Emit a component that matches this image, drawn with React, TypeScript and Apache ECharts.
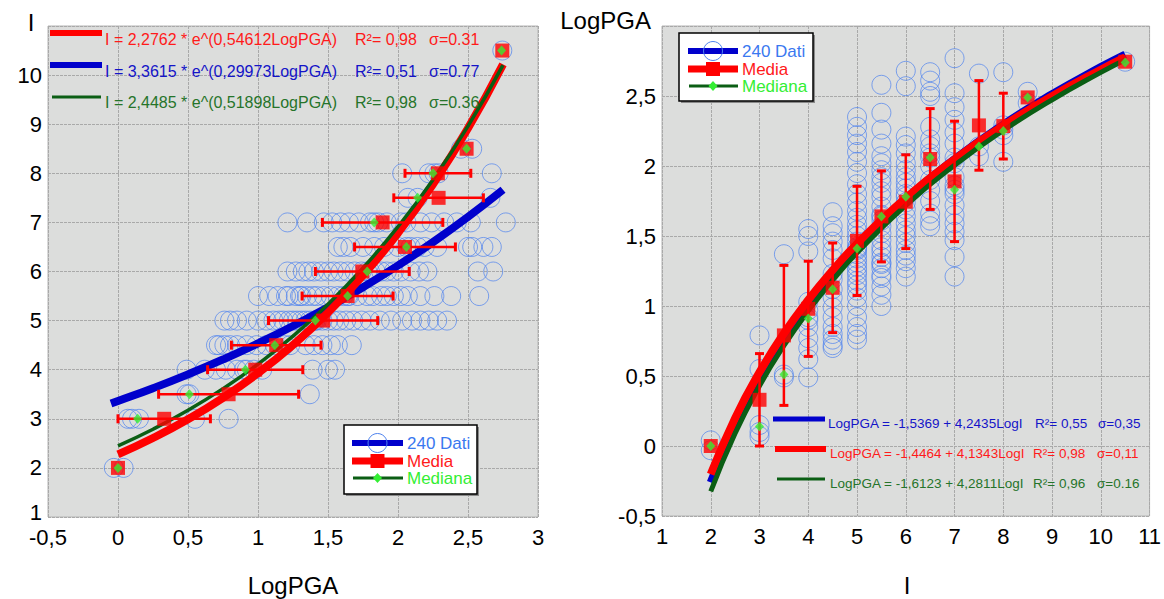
import React, { useEffect, useRef } from 'react';
import * as echarts from 'echarts';

const FONT = '"Liberation Sans", Arial, Helvetica, sans-serif';

// Intensity levels (I) of the grouped data
const levels = [2, 3, 3.5, 4, 4.5, 5, 5.5, 6, 6.5, 7, 7.5, 8, 8.5, 10.5];

// 240 Dati: LogPGA values read per intensity level
const datiLogPGA: number[][] = [
  [-0.03, 0.04],
  [0.07, 0.1, 0.15, 0.55, 0.79],
  [0.49, 0.51, 1.37],
  [0.49, 0.62, 0.7, 0.77, 0.85, 0.9, 0.92, 0.97, 1.03, 1.39, 1.5, 1.55],
  [0.7, 0.72, 0.76, 0.8, 0.85, 0.92, 0.99, 1.06, 1.12, 1.19, 1.23, 1.34, 1.4, 1.46, 1.52, 1.57, 1.67],
  [0.76, 0.8, 0.85, 0.92, 1.0, 1.06, 1.11, 1.15, 1.18, 1.22, 1.25, 1.28, 1.31, 1.34, 1.37, 1.4, 1.41, 1.42, 1.46, 1.5, 1.54, 1.58, 1.63, 1.68, 1.74, 1.8, 1.87, 1.95, 2.03, 2.1, 2.16, 2.22, 2.28, 2.35],
  [1.0, 1.08, 1.14, 1.2, 1.22, 1.27, 1.3, 1.31, 1.35, 1.39, 1.42, 1.47, 1.52, 1.57, 1.61, 1.64, 1.65, 1.71, 1.78, 1.82, 1.88, 1.92, 1.97, 2.02, 2.07, 2.16, 2.26, 2.38, 2.58],
  [1.21, 1.27, 1.32, 1.36, 1.4, 1.45, 1.5, 1.54, 1.59, 1.64, 1.69, 1.74, 1.78, 1.8, 1.84, 1.88, 1.92, 1.97, 2.02, 2.09, 2.15, 2.21, 2.57, 2.68],
  [1.57, 1.61, 1.66, 1.75, 1.83, 1.9, 2.0, 2.06, 2.09, 2.14, 2.19, 2.28, 2.5, 2.53, 2.61, 2.67],
  [1.21, 1.35, 1.47, 1.53, 1.59, 1.65, 1.72, 1.8, 1.83, 1.86, 1.92, 2.02, 2.06, 2.16, 2.24, 2.33, 2.42, 2.52, 2.77],
  [2.07, 2.14, 2.66],
  [2.03, 2.22, 2.26, 2.29, 2.67],
  [2.45, 2.53],
  [2.745],
];

// Media (mean) and standard deviation per level
const mediaLogPGA = [0.0, 0.33, 0.79, 0.98, 1.13, 1.465, 1.64, 1.745, 2.05, 1.89, 2.29, 2.285, 2.49, 2.745];
const devStdLogPGA = [0, 0.33, 0.5, 0.34, 0.32, 0.39, 0.325, 0.335, 0.36, 0.43, 0.32, 0.235, 0, 0];
// Mediana per level
const medianaLogPGA = [0.0, 0.14, 0.51, 0.91, 1.12, 1.41, 1.64, 1.78, 2.06, 1.83, 2.14, 2.25, 2.49, 2.74];

// Left chart fitted curves (I vs LogPGA)
const leftFitX = [0, 0.25, 0.5, 0.75, 1.0, 1.25, 1.5, 1.75, 2.0, 2.25, 2.5, 2.75];
const leftFitRed = [2.276, 2.609, 2.991, 3.428, 3.93, 4.505, 5.164, 5.919, 6.785, 7.778, 8.916, 10.219];
const leftFitGreen = [2.449, 2.788, 3.174, 3.614, 4.114, 4.684, 5.333, 6.072, 6.913, 7.871, 8.962, 10.203];
const leftFitBlueX = [-0.05, 0, 0.25, 0.5, 0.75, 1.0, 1.25, 1.5, 1.75, 2.0, 2.25, 2.5, 2.75];
const leftFitBlue = [3.311, 3.362, 3.623, 3.905, 4.209, 4.536, 4.889, 5.27, 5.68, 6.122, 6.598, 7.112, 7.665];

// Right chart fitted curves (LogPGA vs I)
const rightFitX = [2, 2.5, 3, 3.5, 4, 4.5, 5, 6, 7, 8, 9, 10, 10.5];
const rightFitBlue = [-0.2595, 0.1518, 0.4878, 0.7718, 1.0179, 1.235, 1.4292, 1.7652, 2.0493, 2.2954, 2.5124, 2.7066, 2.7965];
const rightFitRed = [-0.2019, 0.1988, 0.5262, 0.8029, 1.0427, 1.2542, 1.4433, 1.7707, 2.0475, 2.2872, 2.4987, 2.6879, 2.7755];
const rightFitGreen = [-0.3236, 0.0913, 0.4303, 0.7169, 0.9652, 1.1842, 1.3801, 1.719, 2.0057, 2.2539, 2.4729, 2.6688, 2.7595];

// Text labels
const leftEquations = [
  { eq: 'I = 2,2762 * e^(0,54612LogPGA)', r2: 'R²= 0,98', s: 'σ=0.31', color: '#ff1a1a', line: '#ff0000', w: 6 },
  { eq: 'I = 3,3615 * e^(0,29973LogPGA)', r2: 'R²= 0,51', s: 'σ=0.77', color: '#1414c8', line: '#0000cc', w: 6 },
  { eq: 'I = 2,4485 * e^(0,51898LogPGA)', r2: 'R²= 0,98', s: 'σ=0.36', color: '#26742a', line: '#0b5e14', w: 3 },
];
const rightEquations = [
  { eq: 'LogPGA = -1,5369 + 4,2435LogI', r2: 'R²= 0,55', s: 'σ=0,35', color: '#1414c8', line: '#0000cc', w: 5 },
  { eq: 'LogPGA = -1,4464 + 4,1343LogI', r2: 'R²= 0,98', s: 'σ=0,11', color: '#ff1a1a', line: '#ff0000', w: 6 },
  { eq: 'LogPGA = -1,6123 + 4,2811LogI', r2: 'R²= 0,96', s: 'σ=0.16', color: '#26742a', line: '#0b5e14', w: 3 },
];
const legendNames = ['240 Dati', 'Media', 'Mediana'];

const C_CIRCLE = '#4f83ee';
const C_RED = '#ff0000';
const C_BLUE = '#0000cc';
const C_DGREEN = '#0b5e14';
const C_LGREEN = '#33ee33';

const fmt = (v: number) => String(Math.round(v * 100) / 100).replace('.', ',');

function legendBox(x0: number, y0: number, w: number, h: number, rows: number[], lx1: number, lx2: number, tx: number) {
  const mx = (lx1 + lx2) / 2;
  const els: any[] = [
    { type: 'rect', shape: { x: x0 + 2, y: y0 + 2, width: w, height: h }, style: { fill: '#8a8a8a' }, z: 100 },
    { type: 'rect', shape: { x: x0, y: y0, width: w, height: h }, style: { fill: '#ffffff', stroke: '#000', lineWidth: 1.5 }, z: 101 },
    { type: 'line', shape: { x1: lx1, y1: rows[0], x2: lx2, y2: rows[0] }, style: { stroke: C_BLUE, lineWidth: 6 }, z: 102 },
    { type: 'circle', shape: { cx: mx, cy: rows[0], r: 9.5 }, style: { fill: 'none', stroke: C_CIRCLE, lineWidth: 1 }, z: 103 },
    { type: 'line', shape: { x1: lx1, y1: rows[1], x2: lx2, y2: rows[1] }, style: { stroke: C_RED, lineWidth: 7 }, z: 102 },
    { type: 'rect', shape: { x: mx - 7, y: rows[1] - 7, width: 14, height: 14 }, style: { fill: C_RED }, z: 103 },
    { type: 'line', shape: { x1: lx1 + 1, y1: rows[2], x2: lx2, y2: rows[2] }, style: { stroke: C_DGREEN, lineWidth: 3 }, z: 102 },
    { type: 'polygon', shape: { points: [[mx, rows[2] - 5], [mx + 4.5, rows[2]], [mx, rows[2] + 5], [mx - 4.5, rows[2]]] }, style: { fill: C_LGREEN }, z: 103 },
  ];
  const colors = ['#3a78f0', '#ff1a1a', C_LGREEN];
  legendNames.forEach((n, i) => {
    els.push({ type: 'text', x: tx, y: rows[i], style: { text: n, fill: colors[i], font: `17px ${FONT}`, textAlign: 'left', textVerticalAlign: 'middle' }, z: 103 });
  });
  return els;
}

function equationRows(items: any[], lineX: number[][], ys: number[], lineYs: number[], xs: number[][], size: number) {
  const els: any[] = [];
  items.forEach((it, i) => {
    els.push({ type: 'line', shape: { x1: lineX[i][0], y1: lineYs[i], x2: lineX[i][1], y2: lineYs[i] }, style: { stroke: it.line, lineWidth: it.w }, z: 100 });
    [it.eq, it.r2, it.s].forEach((t: string, k: number) => {
      els.push({ type: 'text', x: xs[i][k], y: ys[i], style: { text: t, fill: it.color, font: `${size}px ${FONT}`, textAlign: 'left', textVerticalAlign: 'middle' }, z: 100 });
    });
  });
  return els;
}

export default function App() {
  const ref = useRef<HTMLDivElement>(null);
  useEffect(() => {
    const chart = echarts.init(ref.current!, undefined, { renderer: 'svg' });

    const leftDati: number[][] = [];
    const rightDati: number[][] = [];
    levels.forEach((lv, i) => datiLogPGA[i].forEach((v) => { leftDati.push([v, lv]); rightDati.push([lv, v]); }));
    const leftMedia = levels.map((lv, i) => [mediaLogPGA[i], lv]);
    const rightMedia = levels.map((lv, i) => [lv, mediaLogPGA[i]]);
    const leftMediana = levels.map((lv, i) => [medianaLogPGA[i], lv]);
    const rightMediana = levels.map((lv, i) => [lv, medianaLogPGA[i]]);
    const errData = levels
      .map((lv, i) => [lv, mediaLogPGA[i] - devStdLogPGA[i], mediaLogPGA[i] + devStdLogPGA[i], devStdLogPGA[i]])
      .filter((d) => d[3] > 0);

    const axisLabel = (hideAt: number) => ({
      color: '#000', fontSize: 22, fontFamily: FONT, margin: 8, lineHeight: 20,
      formatter: (v: number) => (v >= hideAt ? '' : fmt(v)),
    });
    const splitLine = { show: true, lineStyle: { color: '#a9a9a9', width: 1, type: [3, 1] as any } };
    const baseAxis = { type: 'value' as const, axisLine: { show: false }, axisTick: { show: false }, splitLine };

    const errRender = (horizontal: boolean) => (params: any, api: any) => {
      const lv = api.value(0), lo = api.value(1), hi = api.value(2);
      const p1 = horizontal ? api.coord([lo, lv]) : api.coord([lv, lo]);
      const p2 = horizontal ? api.coord([hi, lv]) : api.coord([lv, hi]);
      const h = 4.5;
      const st = { stroke: C_RED, lineWidth: 2.5 };
      const cap = { stroke: C_RED, lineWidth: 3 };
      const children = horizontal
        ? [
            { type: 'line', shape: { x1: p1[0], y1: p1[1], x2: p2[0], y2: p2[1] }, style: st },
            { type: 'line', shape: { x1: p1[0], y1: p1[1] - h, x2: p1[0], y2: p1[1] + h }, style: cap },
            { type: 'line', shape: { x1: p2[0], y1: p2[1] - h, x2: p2[0], y2: p2[1] + h }, style: cap },
          ]
        : [
            { type: 'line', shape: { x1: p1[0], y1: p1[1], x2: p2[0], y2: p2[1] }, style: st },
            { type: 'line', shape: { x1: p1[0] - h, y1: p1[1], x2: p1[0] + h, y2: p1[1] }, style: cap },
            { type: 'line', shape: { x1: p2[0] - h, y1: p2[1], x2: p2[0] + h, y2: p2[1] }, style: cap },
          ];
      return { type: 'group', children };
    };

    const scatterStyle = { color: 'rgba(0,0,0,0)', borderColor: C_CIRCLE, borderWidth: 0.9 };
    const curve = (xi: number, data: number[][], color: string, width: number, z: number) => ({
      type: 'line', xAxisIndex: xi, yAxisIndex: xi, data, showSymbol: false, smooth: true,
      lineStyle: { color, width }, z, silent: true,
    });

    const nameStyle = (text: string, align: string) => ({ text, fill: '#000', font: `24px ${FONT}`, textAlign: align, textVerticalAlign: 'middle', lineHeight: 20 });
    const graphicEls: any[] = [
      { type: 'text', x: 31, y: 22, style: nameStyle('I', 'center'), z: 100 },
      { type: 'text', x: 293, y: 585, style: nameStyle('LogPGA', 'center'), z: 100 },
      { type: 'text', x: 651, y: 20, style: nameStyle('LogPGA', 'right'), z: 100 },
      { type: 'text', x: 907, y: 585, style: nameStyle('I', 'center'), z: 100 },
      ...equationRows(leftEquations, [[50, 102], [50, 102], [52, 101]], [39, 71, 102], [33, 65, 97], [[105, 355, 429], [105, 355, 429], [105, 355, 429]], 16),
      ...equationRows(rightEquations, [[773, 825], [775, 826], [777, 825]], [423, 453, 483], [419, 449, 479], [[828, 1035, 1098], [830, 1033, 1097], [830, 1033, 1097]], 13.5),
      ...legendBox(344, 425, 133, 69, [443, 461, 478], 352, 403, 407),
      ...legendBox(679, 33, 134, 68, [51, 69, 86], 688, 738, 742),
    ];

    const leftYLabel = {
      color: '#000', fontSize: 22, fontFamily: FONT, margin: 6, lineHeight: 16,
      formatter: (v: number) => (v >= 11 ? '' : v <= 1 ? '{low|' + fmt(v) + '}' : fmt(v)),
      rich: { low: { fontSize: 22, fontFamily: FONT, color: '#000', lineHeight: 16, padding: [0, 0, 10, 0] } },
    };

    const option: any = {
      animation: false,
      backgroundColor: '#ffffff',
      grid: [
        { left: 48, top: 26, width: 490, height: 491, show: true, backgroundColor: '#dcdddc', borderColor: '#b4b4b4', borderWidth: 1 },
        { left: 662, top: 26, width: 489, height: 490, show: true, backgroundColor: '#dcdddc', borderColor: '#b4b4b4', borderWidth: 1 },
      ],
      xAxis: [
        { ...baseAxis, gridIndex: 0, min: -0.5, max: 3, interval: 0.5, axisLabel: { ...axisLabel(99), margin: 10 } },
        { ...baseAxis, gridIndex: 1, min: 1, max: 11, interval: 1, axisLabel: { ...axisLabel(99), margin: 10 } },
      ],
      yAxis: [
        { ...baseAxis, gridIndex: 0, min: 1, max: 11, interval: 1, axisLabel: leftYLabel },
        { ...baseAxis, gridIndex: 1, min: -0.5, max: 3, interval: 0.5, axisLabel: { ...axisLabel(3), margin: 6, lineHeight: 16 } },
      ],
      series: [
        // left chart
        { type: 'scatter', xAxisIndex: 0, yAxisIndex: 0, data: leftDati, symbol: 'circle', symbolSize: 19, itemStyle: scatterStyle, z: 2 },
        curve(0, leftFitBlueX.map((x, i) => [x, leftFitBlue[i]]), C_BLUE, 8, 3),
        curve(0, leftFitX.map((x, i) => [x, leftFitRed[i]]), C_RED, 8, 3),
        curve(0, leftFitX.map((x, i) => [x, leftFitGreen[i]]), C_DGREEN, 3.5, 3),
        { type: 'custom', xAxisIndex: 0, yAxisIndex: 0, data: errData, renderItem: errRender(true), encode: { x: [1, 2], y: 0 }, z: 4 },
        { type: 'scatter', xAxisIndex: 0, yAxisIndex: 0, data: leftMedia, symbol: 'rect', symbolSize: 14, itemStyle: { color: C_RED }, z: 5 },
        { type: 'scatter', xAxisIndex: 0, yAxisIndex: 0, data: leftMediana, symbol: 'diamond', symbolSize: [9, 10], itemStyle: { color: C_LGREEN }, z: 6 },
        // right chart
        { type: 'scatter', xAxisIndex: 1, yAxisIndex: 1, data: rightDati, symbol: 'circle', symbolSize: 19, itemStyle: scatterStyle, z: 2 },
        curve(1, rightFitX.map((x, i) => [x, rightFitBlue[i]]), C_BLUE, 8, 3),
        curve(1, rightFitX.map((x, i) => [x, rightFitRed[i]]), C_RED, 8, 3),
        curve(1, rightFitX.map((x, i) => [x, rightFitGreen[i]]), C_DGREEN, 5, 3),
        { type: 'custom', xAxisIndex: 1, yAxisIndex: 1, data: errData, renderItem: errRender(false), encode: { x: 0, y: [1, 2] }, z: 4 },
        { type: 'scatter', xAxisIndex: 1, yAxisIndex: 1, data: rightMedia, symbol: 'rect', symbolSize: 14, itemStyle: { color: C_RED }, z: 5 },
        { type: 'scatter', xAxisIndex: 1, yAxisIndex: 1, data: rightMediana, symbol: 'diamond', symbolSize: [9, 10], itemStyle: { color: C_LGREEN }, z: 6 },
      ],
      graphic: { elements: graphicEls },
    };
    chart.setOption(option);
    return () => chart.dispose();
  }, []);
  return <div ref={ref} style={{ position: 'absolute', left: 0, top: 0, width: 1164, height: 599 }} />;
}
